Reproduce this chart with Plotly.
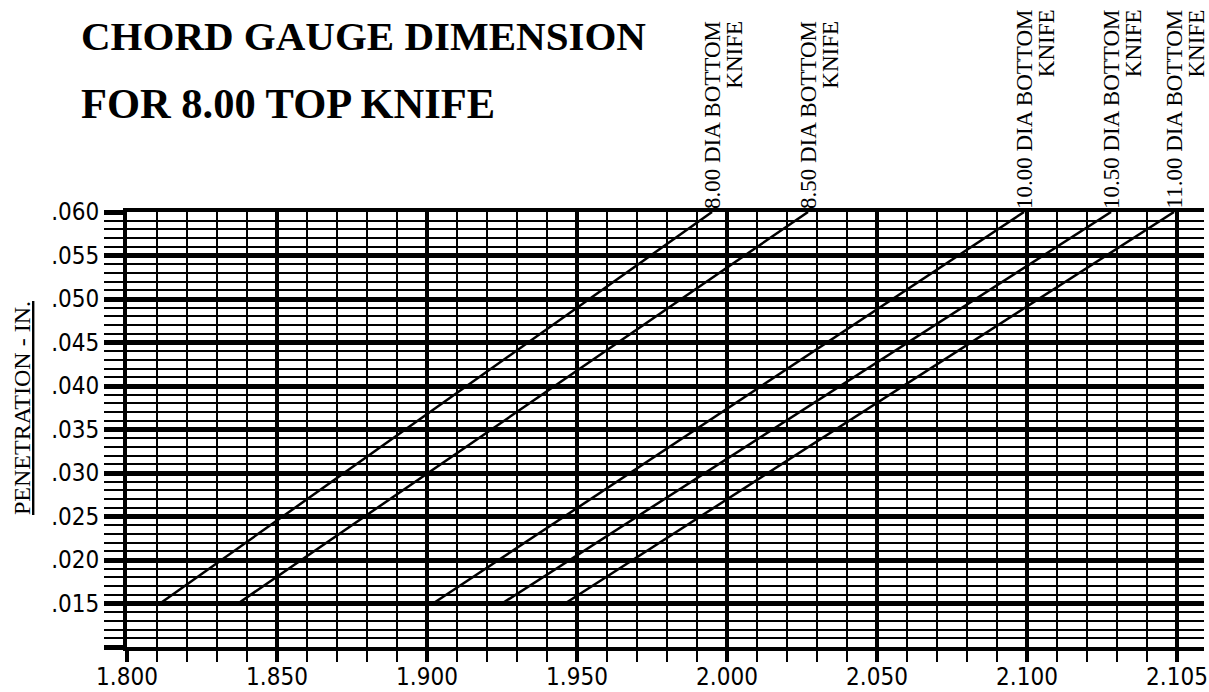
import plotly.graph_objects as go

# ---- data ----
penetration = [0.015, 0.060]
chord_8_00 = [1.811, 1.995]
chord_8_50 = [1.837, 2.027]
chord_10_00 = [1.902, 2.099]
chord_10_50 = [1.925, 2.128]
chord_11_00 = [1.946, 2.149]

knife_labels = ["8.00 DIA BOTTOM", "8.50 DIA BOTTOM", "10.00 DIA BOTTOM",
                "10.50 DIA BOTTOM", "11.00 DIA BOTTOM"]
knife_word = "KNIFE"

x_tick_vals = [1.80, 1.85, 1.90, 1.95, 2.00, 2.05, 2.10, 2.15]
x_tick_text = ["1.800", "1.850", "1.900", "1.950", "2.000", "2.050", "2.100", "2.105"]
y_tick_vals = [0.010, 0.015, 0.020, 0.025, 0.030, 0.035, 0.040, 0.045, 0.050, 0.055, 0.060]
y_tick_text = ["", ".015", ".020", ".025", ".030", ".035", ".040", ".045", ".050", ".055", ".060"]

title_line1 = "CHORD GAUGE DIMENSION"
title_line2 = "FOR 8.00 TOP KNIFE"
y_title = "PENETRATION - IN."

series = [chord_8_00, chord_8_50, chord_10_00, chord_10_50, chord_11_00]

W, H = 1209, 692
ML, MR, MT, MB = 127, 5, 212, 45
plot_w = W - ML - MR
plot_h = H - MT - MB

TICK_FONT = "DejaVu Sans Condensed, Liberation Sans Narrow, sans-serif"
SERIF = "Liberation Serif, Times New Roman, serif"

fig = go.Figure()
for chord in series:
    fig.add_trace(go.Scatter(x=chord, y=penetration, mode="lines",
                             line=dict(color="black", width=2.5),
                             showlegend=False, hoverinfo="skip"))

annotations = []
for chord, lab in zip(series, knife_labels):
    annotations.append(dict(
        x=chord[-1], y=penetration[-1], xref="x", yref="y",
        text=('<span style="font-size:23px">' + lab + '</span><br>'
              '<span style="font-size:23px">' + knife_word + '</span>'),
        textangle=-90, showarrow=False,
        xanchor="center", yanchor="bottom", align="right",
        xshift=11, yshift=1,
        font=dict(family=SERIF, size=17, color="black")))

def px_to_paper_x(px):
    return (px - ML) / plot_w

def px_to_paper_y(py):
    return (H - MB - py) / plot_h

annotations.append(dict(x=px_to_paper_x(79), y=px_to_paper_y(36), xref="paper", yref="paper",
                        text="<b>" + title_line1 + "</b>", showarrow=False,
                        xanchor="left", yanchor="middle",
                        font=dict(family=SERIF, size=41, color="black")))
annotations.append(dict(x=px_to_paper_x(79), y=px_to_paper_y(104), xref="paper", yref="paper",
                        text="<b>" + title_line2 + "</b>", showarrow=False,
                        xanchor="left", yanchor="middle",
                        font=dict(family=SERIF, size=42.5, color="black")))
annotations.append(dict(x=px_to_paper_x(22), y=px_to_paper_y(408), xref="paper", yref="paper",
                        text="<u>" + y_title + "</u>", showarrow=False, textangle=-90,
                        xanchor="center", yanchor="middle",
                        font=dict(family=SERIF, size=24, color="black")))

fig.update_layout(
    width=W, height=H, autosize=False,
    margin=dict(l=ML, r=MR, t=MT, b=MB, pad=0, autoexpand=False),
    paper_bgcolor="white", plot_bgcolor="white",
    annotations=annotations,
)

fig.update_xaxes(
    range=[1.8, 2.159], autorange=False, automargin=False,
    tickmode="array", tickvals=x_tick_vals, ticktext=x_tick_text,
    showgrid=True, gridcolor="black", gridwidth=4,
    ticks="outside", ticklen=11, tickwidth=4, tickcolor="black",
    ticklabelstandoff=-6,
    showline=True, linecolor="black", linewidth=4, mirror=True,
    zeroline=False,
    tickfont=dict(family=TICK_FONT, size=24, color="black"),
    minor=dict(tickmode="linear", tick0=1.8, dtick=0.01, showgrid=True,
               gridcolor="black", gridwidth=2, ticks="outside", ticklen=11,
               tickwidth=2, tickcolor="black"),
)
fig.update_yaxes(
    range=[0.010, 0.060], autorange=False, automargin=False,
    tickmode="array", tickvals=y_tick_vals, ticktext=y_tick_text,
    showgrid=True, gridcolor="black", gridwidth=5,
    ticks="outside", ticklen=19, tickwidth=5, tickcolor="black",
    showline=True, linecolor="black", linewidth=4, mirror=False,
    zeroline=False,
    tickfont=dict(family=TICK_FONT, size=24, color="black"),
    minor=dict(tickmode="linear", tick0=0.010, dtick=0.001, showgrid=True,
               gridcolor="black", gridwidth=2, ticks="outside", ticklen=19,
               tickwidth=2, tickcolor="black"),
)

fig.write_html("out.html", config={"displayModeBar": False},
               post_script="document.body.style.margin='0px';")
